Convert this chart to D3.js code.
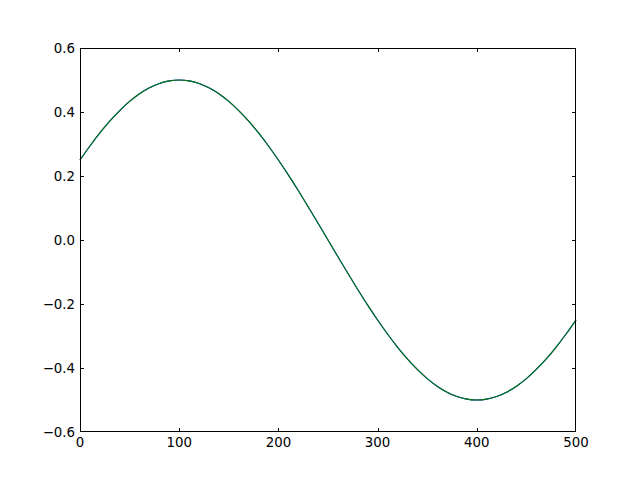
<!DOCTYPE html>
<html><head><meta charset="utf-8">
<script src="https://cdn.jsdelivr.net/npm/d3@7"></script>
<style>body{margin:0;background:#fff;}svg{display:block;}</style>
</head><body>
<svg id="c" width="640" height="480"></svg>
<script>
const xs = [0,10,20,30,40,50,60,70,80,90,100,110,120,130,140,150,160,170,180,190,200,210,220,230,240,250,260,270,280,290,300,310,320,330,340,350,360,370,380,390,400,410,420,430,440,450,460,470,480,490,500];
const seriesA = [0.25,0.2939,0.3346,0.3716,0.4045,0.4330,0.4568,0.4755,0.4891,0.4973,0.5,0.4973,0.4891,0.4755,0.4568,0.4330,0.4045,0.3716,0.3346,0.2939,0.25,0.2034,0.1545,0.1040,0.0523,0.0,-0.0523,-0.1040,-0.1545,-0.2034,-0.25,-0.2939,-0.3346,-0.3716,-0.4045,-0.4330,-0.4568,-0.4755,-0.4891,-0.4973,-0.5,-0.4973,-0.4891,-0.4755,-0.4568,-0.4330,-0.4045,-0.3716,-0.3346,-0.2939,-0.25];
const seriesB = [0.25,0.2939,0.3346,0.3716,0.4045,0.4330,0.4568,0.4755,0.4891,0.4973,0.5,0.4973,0.4891,0.4755,0.4568,0.4330,0.4045,0.3716,0.3346,0.2939,0.25,0.2034,0.1545,0.1040,0.0523,0.0,-0.0523,-0.1040,-0.1545,-0.2034,-0.25,-0.2939,-0.3346,-0.3716,-0.4045,-0.4330,-0.4568,-0.4755,-0.4891,-0.4973,-0.5,-0.4973,-0.4891,-0.4755,-0.4568,-0.4330,-0.4045,-0.3716,-0.3346,-0.2939,-0.25];
const xTicks = [0,100,200,300,400,500];
const yTicks = [-0.6,-0.4,-0.2,0.0,0.2,0.4,0.6];
const colors = ["#0000ff","#008000"];

const svg = d3.select("#c");
const L=80,R=576,T=48,B=432;
const x = d3.scaleLinear().domain([0,500]).range([L,R]);
const y = d3.scaleLinear().domain([-0.6,0.6]).range([B,T]);
const font = "DejaVu Sans, sans-serif";
const fs = 13.33;
const fmtY = d=> d3.format(".1f")(d).replace("-","\u2212");

const line = d3.line().x((d,i)=>x(xs[i])).y(d=>y(d)).curve(d3.curveMonotoneX);
[seriesA,seriesB].forEach((s,k)=>{
  svg.append("path").attr("d",line(s)).attr("fill","none").attr("stroke",colors[k]).attr("stroke-width",1.1);
});

// ticks (inside, all four sides)
const g = svg.append("g").attr("stroke","#000").attr("stroke-width",1);
xTicks.forEach(t=>{
  const px=Math.min(Math.round(x(t))+0.5, R-0.5);
  g.append("line").attr("x1",px).attr("x2",px).attr("y1",B).attr("y2",B-4);
  g.append("line").attr("x1",px).attr("x2",px).attr("y1",T).attr("y2",T+4);
});
yTicks.forEach(t=>{
  const py=Math.min(Math.round(y(t))+0.5, B-0.5);
  g.append("line").attr("x1",L).attr("x2",L+4).attr("y1",py).attr("y2",py);
  g.append("line").attr("x1",R).attr("x2",R-4).attr("y1",py).attr("y2",py);
});
svg.append("rect").attr("x",L+0.5).attr("y",T+0.5).attr("width",R-L-1).attr("height",B-T-1)
  .attr("fill","none").attr("stroke","#000").attr("stroke-width",1);

svg.append("g").selectAll("text").data(xTicks).join("text")
  .attr("x",d=>x(d)).attr("y",B+15).attr("text-anchor","middle")
  .attr("font-family",font).attr("font-size",fs).text(d=>d);
svg.append("g").selectAll("text").data(yTicks).join("text")
  .attr("x",L-5).attr("y",d=>y(d)+5).attr("text-anchor","end")
  .attr("font-family",font).attr("font-size",fs).text(fmtY);
</script>
</body></html>
